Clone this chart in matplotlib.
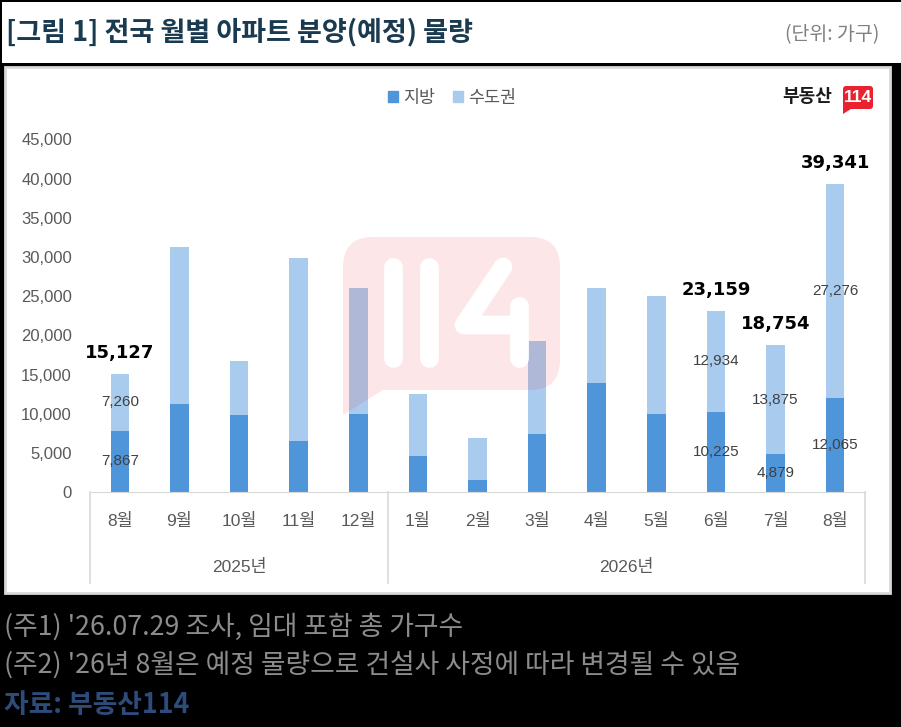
import matplotlib
matplotlib.use('Agg')
import matplotlib.pyplot as plt
from matplotlib.patches import Rectangle, FancyBboxPatch, PathPatch, Patch
from matplotlib.path import Path
from matplotlib.ticker import FuncFormatter
import matplotlib.transforms as mtransforms
import numpy as np

plt.rcParams['font.family'] = ['Liberation Sans', 'Noto Sans CJK KR', 'DejaVu Sans']
KR = ['Noto Sans CJK KR', 'DejaVu Sans']

# data (units: households)
months = ['8월', '9월', '10월', '11월', '12월',
          '1월', '2월', '3월', '4월', '5월', '6월', '7월', '8월']
years = ['2025년', '2026년']
year_span = [(0, 4), (5, 12)]
local = [7867, 11260, 9850, 6540, 9980, 4630, 1570, 7430, 13930, 10020, 10225, 4879, 12065]
capital = [7260, 20050, 6890, 23370, 16100, 7900, 5310, 11860, 12150, 14970, 12934, 13875, 27276]
labeled = [0, 10, 11, 12]   # bars that carry value labels

title = '[그림 1] 전국 월별 아파트 분양(예정) 물량'
unit = '(단위: 가구)'
notes = ["(주1) '26.07.29 조사, 임대 포함 총 가구수",
         "(주2) '26년 8월은 예정 물량으로 건설사 사정에 따라 변경될 수 있음"]
source = '자료: 부동산114'

c_local = '#4f95d9'
c_cap = '#a9cbee'
grey_line = '#d9d9d9'
tick_col = '#595959'

W, H = 901, 727
fig = plt.figure(figsize=(W / 100, H / 100), dpi=100, facecolor='black')

# background layer in pixel coordinates (y down)
bg = fig.add_axes([0, 0, 1, 1])
bg.set_xlim(0, W)
bg.set_ylim(H, 0)
bg.axis('off')
bg.set_zorder(0)
bg.add_patch(Rectangle((2, 2), W - 2, 61, facecolor='white', edgecolor='none'))
bg.add_patch(Rectangle((5, 67), 885, 526, facecolor='white', edgecolor=grey_line, lw=2))
bg.text(6, 32, title, fontsize=19.5, fontweight='bold', color='#1a3a4f',
        family=KR, va='center', ha='left')
bg.text(879, 35, unit, fontsize=14, color='#808080', family=KR, va='center', ha='right')
for i, line in enumerate(notes):
    bg.text(4, 627 + 38 * i, line, fontsize=19.3, color='#8c8c8c', family=KR,
            va='center', ha='left')
bg.text(4, 705, source, fontsize=19.3, fontweight='bold', color='#2d4b7b', family=KR,
        va='center', ha='left')

# main chart
x0, x1, yb, yt = 90, 865, 492.3, 139.3
ax = fig.add_axes([x0 / W, 1 - yb / H, (x1 - x0) / W, (yb - yt) / H])
ax.set_zorder(1)
ax.patch.set_visible(False)

x = np.arange(len(months))
local_a = np.array(local)
cap_a = np.array(capital)
total = local_a + cap_a
bw = 0.31
ax.bar(x, local_a, bw, color=c_local, label='지방')
ax.bar(x, cap_a, bw, bottom=local_a, color=c_cap, label='수도권')

ax.set_xlim(-0.5, len(months) - 0.5)
ax.set_ylim(0, 45000)
ax.set_yticks(np.arange(0, 45001, 5000))
ax.yaxis.set_major_formatter(FuncFormatter(lambda v, p: f'{int(v):,}'))
ax.set_xticks(x)
ax.set_xticklabels(months)
ax.tick_params(axis='y', length=0, pad=13, labelsize=12, labelcolor=tick_col)
ax.tick_params(axis='x', length=0, pad=15, labelsize=12.5, labelcolor=tick_col)
for s in ['top', 'right', 'left']:
    ax.spines[s].set_visible(False)
ax.spines['bottom'].set_color(grey_line)

# category separators and year labels under the axis
tr = mtransforms.blended_transform_factory(ax.transData, ax.transAxes)
for xs in [-0.5, 4.5, len(months) - 0.5]:
    ax.plot([xs, xs], [0, -0.258], transform=tr, color=grey_line, lw=1.2, clip_on=False)
for yr, (a, b) in zip(years, year_span):
    ax.text((a + b) / 2, -0.212, yr, transform=tr, ha='center', va='center',
            fontsize=12.5, color=tick_col)

# value labels
for i in labeled:
    ax.text(x[i], local_a[i] / 2, f'{local_a[i]:,}', ha='center', va='center',
            fontsize=11, color='#404040')
    ax.text(x[i], local_a[i] + cap_a[i] / 2, f'{cap_a[i]:,}', ha='center', va='center',
            fontsize=11, color='#404040')
    ax.annotate(f'{total[i]:,}', (x[i], total[i]), xytext=(0, 15), textcoords='offset points',
                ha='center', va='center', fontsize=13, fontweight='bold', color='black',
                family='DejaVu Sans')

fig.legend(handles=[Patch(color=c_local, label='지방'), Patch(color=c_cap, label='수도권')],
           loc='center', bbox_to_anchor=(452 / W, 1 - 98 / H), ncol=2, frameon=False,
           handlelength=0.6, handleheight=0.6, handletextpad=0.3, columnspacing=1.0,
           prop={'family': KR, 'size': 12.5}, labelcolor=tick_col)

# watermark + logo overlay (pixel coordinates)
ov = fig.add_axes([0, 0, 1, 1])
ov.set_xlim(0, W)
ov.set_ylim(H, 0)
ov.axis('off')
ov.set_zorder(2)
ov.patch.set_visible(False)

wx0, wx1, wy0, wy1, r = 343, 560, 237, 390, 30
verts = [(wx0, wy0 + r), (wx0, wy0), (wx0 + r, wy0), (wx1 - r, wy0), (wx1, wy0),
         (wx1, wy0 + r), (wx1, wy1 - r), (wx1, wy1), (wx1 - r, wy1), (383, wy1),
         (wx0, 415), (wx0, wy0 + r)]
codes = [Path.MOVETO, Path.CURVE3, Path.CURVE3, Path.LINETO, Path.CURVE3, Path.CURVE3,
         Path.LINETO, Path.CURVE3, Path.CURVE3, Path.LINETO, Path.LINETO, Path.CLOSEPOLY]
ov.add_patch(PathPatch(Path(verts, codes), facecolor='#e8323c', alpha=0.12, edgecolor='none'))
for sx in [392.5, 428.5]:
    ov.plot([sx, sx], [267, 358], color='white', lw=13.5, solid_capstyle='round')
ov.plot([503, 464, 518], [267, 325, 325], color='white', lw=13.5,
        solid_capstyle='round', solid_joinstyle='round')
ov.plot([518.5, 518.5], [306, 358], color='white', lw=13.5, solid_capstyle='round')

# brand logo top-right
ov.text(832, 97, '부동산', fontsize=13, fontweight='bold', color='#1a1a1a',
        family=KR, ha='right', va='center')
ov.add_patch(FancyBboxPatch((843, 86), 30, 23, boxstyle='round,pad=0,rounding_size=3',
                            facecolor='#e8232f', edgecolor='none'))
ov.add_patch(plt.Polygon([(843, 100), (843, 114), (851, 109)], facecolor='#e8232f',
                         edgecolor='none'))
ov.text(858, 97.5, '114', fontsize=12.5, fontweight='bold', color='white',
        family='Liberation Sans', ha='center', va='center')

fig.savefig('out.png', dpi=100, facecolor='black')
